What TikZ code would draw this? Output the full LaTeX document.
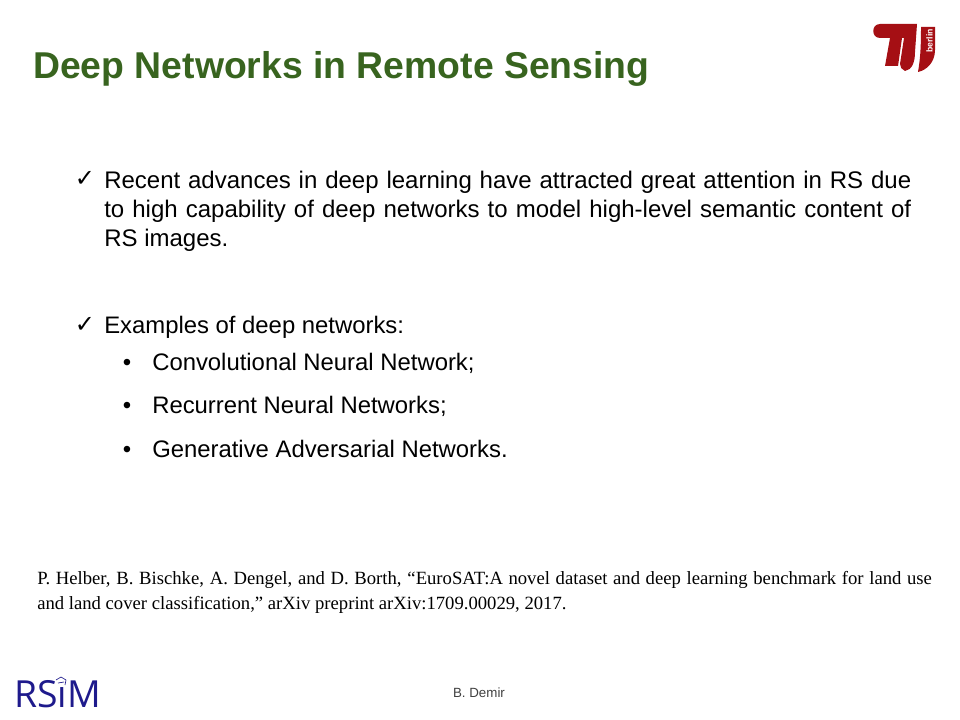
\documentclass[tikz,border=0pt]{standalone}
\usepackage{fontspec}
\setmainfont{Liberation Sans}
\newfontfamily\reffont{Liberation Serif}
\newfontfamily\rsimfont{Open Sans}
\newfontfamily\symfont{DejaVu Sans}
\definecolor{titlegreen}{HTML}{38641F}
\definecolor{tured}{HTML}{A50F14}
\definecolor{rsimblue}{HTML}{1E1A8C}
\tikzset{
	body/.style={anchor=north west, inner sep=0pt, font=\fontsize{18}{21.75}\selectfont, text width=#1, align=justify},
	bullet/.style={anchor=base, inner sep=0pt, font=\fontsize{18}{20}\selectfont},
	item/.style={anchor=base west, inner sep=0pt, font=\fontsize{17.9}{20}\selectfont},
	tick/.style={anchor=base, inner sep=0pt, font=\symfont\fontsize{18}{20}\selectfont}
}
\begin{document}
\begin{tikzpicture}[x=0.75pt,y=-0.75pt]
\useasboundingbox (0,0) rectangle (960,720);
\fill[white] (0,0) rectangle (960,720);
\node [anchor=base west, inner sep=0pt, text=titlegreen, font=\fontsize{28}{30}\selectfont\bfseries] (title) at (33,79) {Deep Networks in Remote Sensing};
% logo
\fill[tured] (917,24) -- (880,24) .. controls (871,24) and (871,38) .. (880,38) -- (890,38) -- (885,66) -- (898,66) -- (902,38) -- (904,38) -- (900,64) .. controls (900,67) and (902,70) .. (905,71) .. controls (912,70) and (915,62) .. (915,52) -- cycle;
\fill[tured] (921,27) -- (935,27) -- (935,50) .. controls (935,62) and (927,70) .. (918,72) .. controls (920,60) and (921,50) .. (921,27) -- cycle;
\node [rotate=90, inner sep=0pt, text=white, font=\fontsize{6.5}{8}\selectfont\bfseries] (berlin) at (929.5,41) {berlin};
% text
\node [tick] (tick1) at (85,187) {✓};
\node [body=605.25pt] (recent) at (104,171) {Recent advances in deep learning have attracted great attention in RS due to high capability of deep networks to model high-level semantic content of RS images.};
\node [tick] (tick2) at (85,332) {✓};
\node [item] (examples) at (104,333) {Examples of deep networks:};
\node [bullet] (dot1) at (127,370) {•};
\node [item] (cnn) at (152,370) {Convolutional Neural Network;};
\node [bullet] (dot2) at (127,413) {•};
\node [item] (rnn) at (152,413) {Recurrent Neural Networks;};
\node [bullet] (dot3) at (127,457) {•};
\node [item] (gan) at (152,457) {Generative Adversarial Networks.};
\node [anchor=north west, inner sep=0pt, text width=671pt, align=justify, font=\reffont\fontsize{14}{18.75}\selectfont] (paper) at (37,571) {P. Helber, B. Bischke, A. Dengel, and D. Borth, “EuroSAT:A novel dataset and deep learning benchmark for land use and land cover classification,” arXiv preprint arXiv:1709.00029, 2017.};
% footer
\node [anchor=base west, inner sep=0pt, text=rsimblue, font=\rsimfont\fontsize{28}{30}\selectfont] (rsim) at (14,707) {RSiM};
\fill[white] (56,676) rectangle (68,686);
\draw[rsimblue, line width=0.5pt] (56,680) -- (61,677) -- (66,680) -- (65,685) (58,683) -- (64,682);
\node [anchor=base, inner sep=0pt, text=black!75, font=\fontsize{10}{12}\selectfont] (author) at (479,697) {B. Demir};
\end{tikzpicture}
\end{document}
